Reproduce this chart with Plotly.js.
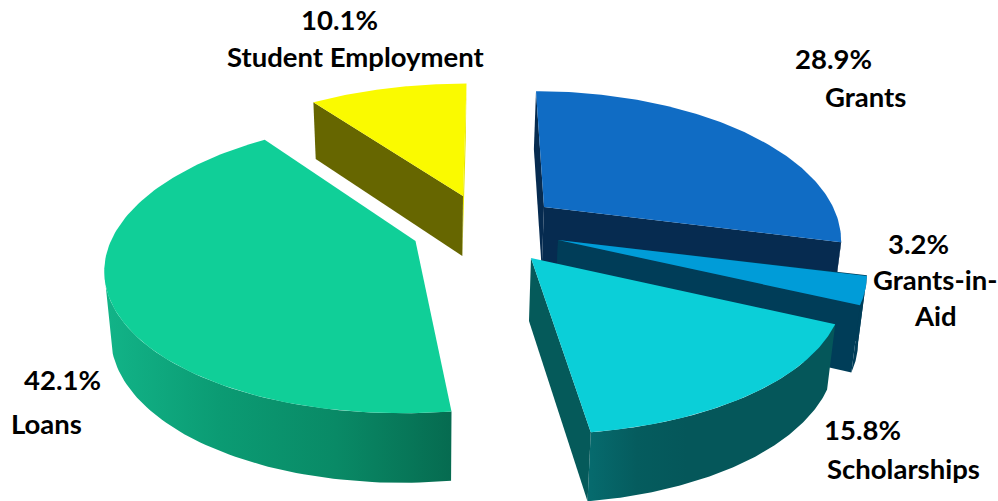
<!DOCTYPE html>
<html>
<head>
<meta charset="utf-8">
<script src="https://cdn.plot.ly/plotly-3.0.1.min.js"></script>
<style>html,body{margin:0;padding:0;background:#fff}#chart{width:998px;height:501px}</style>
</head>
<body>
<div id="chart"></div>
<script>
// Shares of student aid, clockwise from twelve o'clock.
const categories = ["Grants", "Grants-in-Aid", "Scholarships", "Loans", "Student Employment"];
const shares = [28.9, 3.2, 15.8, 42.1, 10.1];

// Label lines for each slice.
const nameLines = [["Grants"], ["Grants-in-", "Aid"], ["Scholarships"], ["Loans"], ["Student Employment"]];

// Exploded position and per-slice projection of each wedge (plot pixels).
const anchorX = [544, 558, 531, 415.5, 463];
const anchorY = [207, 240, 258, 241, 196];
const radiusX = [289, 300, 304.6, 304.6, 299];
const radiusY = [139, 139, 141, 143, 135];
const foreshorten = [0.2, 0.2, 0.2, 0.17, 0.2];
const driftX = [48, 60, 35, -65.6, -21];
const wallDepth = [62, 65, 63, 63.5, 60];

// Colours of the top face, the two cut faces and the rim wall of each wedge.
const topColors = ["#106cc4", "#009cd8", "#0bcfd8", "#10cf98", "#fafa00"];
const startFaceColors = ["#062b50", "#003d58", null, null, "#666600"];
const endFaceColors = ["#062b50", "#003d58", "#055a5a", null, "#e6e600"];
const rimColors = [
  ["#062b50"],
  ["#003d58"],
  ["#066b6e", "#055c5e", "#05575a", "#05575a", "#05575a", "#05575a"],
  ["#12b488", "#0b9b73", "#098a66", "#066b50"],
  ["#666600"]
];
const drawOrder = [4, 3, 0, 1, 2];

const wallVanishX = 430, wallConverge = 0.02, wallGrowth = 0.035;

const total = shares.reduce((a, b) => a + b, 0);
const bounds = [0];
shares.forEach((v, i) => bounds.push(bounds[i] + v / total * 2 * Math.PI));

// Perspective position of a point on the outer rim of wedge i.
function rimPoint(i, a) {
  const X = Math.sin(a), Y = Math.cos(a), s = 1 / (1 + foreshorten[i] * Y);
  return [anchorX[i] + radiusX[i] * X * s + driftX[i] * (s - 1), anchorY[i] - radiusY[i] * Y * s];
}
// The same point at the bottom of the wedge's wall.
function dropped(i, p) {
  return [p[0] + (wallVanishX - p[0]) * wallConverge, p[1] + wallDepth[i] + wallGrowth * (p[1] - anchorY[i])];
}
function arc(i) {
  const pts = [], n = 120;
  for (let k = 0; k <= n; k++) pts.push(rimPoint(i, bounds[i] + (bounds[i + 1] - bounds[i]) * k / n));
  return pts;
}
function polygon(pts, name, style) {
  return Object.assign({
    type: "scatter", mode: "lines", name: name,
    x: pts.map(p => p[0]).concat(pts[0][0]),
    y: pts.map(p => p[1]).concat(pts[0][1]),
    fill: "toself", line: { width: 0 }, hoverinfo: "skip", showlegend: false
  }, style);
}

const traces = [];
drawOrder.forEach(i => {
  const rim = arc(i), center = [anchorX[i], anchorY[i]];
  const first = rim[0], last = rim[rim.length - 1];
  const face = (p, col) => traces.push(
    polygon([center, p, dropped(i, p), dropped(i, center)], categories[i], { fillcolor: col }));

  if (endFaceColors[i] && i === 4) face(last, endFaceColors[i]);
  if (startFaceColors[i]) face(first, startFaceColors[i]);

  // The wall only shows on the viewer's side of the rim's widest point.
  let widest = 0;
  rim.forEach((p, k) => {
    if (Math.abs(p[0] - center[0]) > Math.abs(rim[widest][0] - center[0])) widest = k;
  });
  const visible = first[1] > last[1] ? rim.slice(0, widest + 1) : rim.slice(widest);
  if (visible.length > 1) {
    const wall = visible.concat(visible.map(p => dropped(i, p)).reverse());
    const stops = rimColors[i];
    traces.push(polygon(wall, categories[i], stops.length > 1
      ? { fillgradient: { type: "horizontal", colorscale: stops.map((c, k) => [k / (stops.length - 1), c]) } }
      : { fillcolor: stops[0] }));
  }

  if (endFaceColors[i] && i !== 4) face(last, endFaceColors[i]);
  traces.push(polygon([center].concat(rim), categories[i], { fillcolor: topColors[i] }));
});

// Label placement: percentage line first, then the name lines.
const labelX = [[833, 865], [918, 935, 935], [862, 903], [62, 46], [339, 355.5]];
const labelY = [[58.5, 96.5], [243.5, 279.5, 315.5], [429.5, 468.5], [379.5, 423.5], [19.5, 56.5]];

const annotations = [];
shares.forEach((v, i) => {
  const lines = [v.toFixed(1) + "%"].concat(nameLines[i]);
  lines.forEach((text, k) => annotations.push({
    text: text, x: labelX[i][k], y: labelY[i][k], xref: "x", yref: "y",
    xanchor: "center", yanchor: "middle", showarrow: false,
    font: { family: "Lato, 'Open Sans', sans-serif", size: 27.5, color: "#000", weight: 700 }
  }));
});

Plotly.newPlot("chart", traces, {
  width: 998, height: 501,
  margin: { l: 0, r: 0, t: 0, b: 0, pad: 0 },
  paper_bgcolor: "#fff", plot_bgcolor: "#fff",
  showlegend: false,
  xaxis: { range: [0, 998], visible: false, fixedrange: true },
  yaxis: { range: [501, 0], visible: false, fixedrange: true },
  annotations: annotations
}, { displayModeBar: false, staticPlot: true });
</script>
</body>
</html>
